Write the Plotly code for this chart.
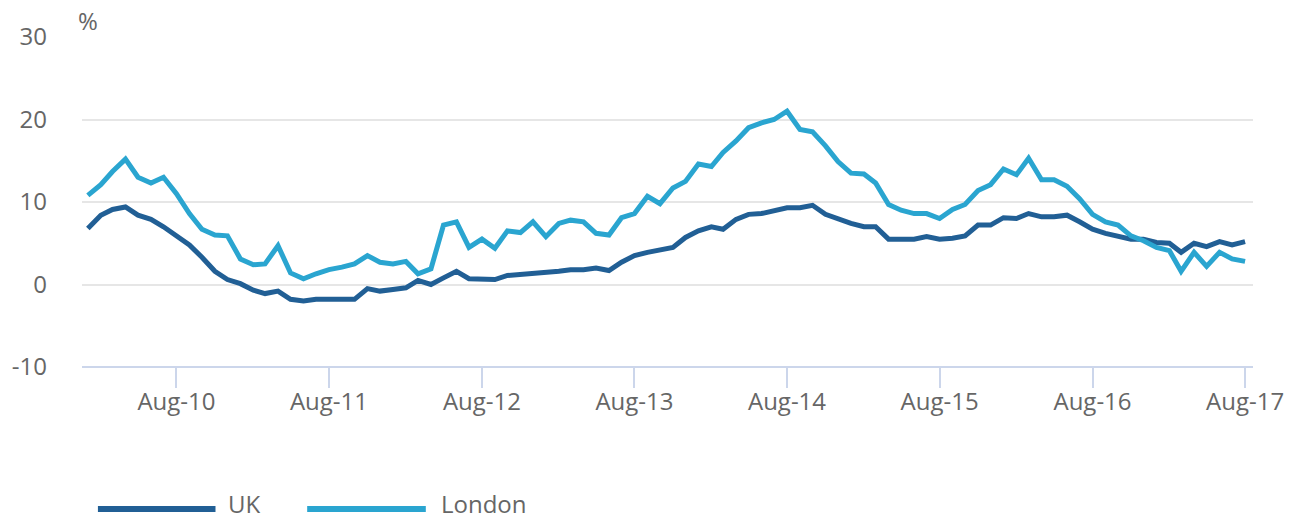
import pandas as pd
import plotly.graph_objects as go

# monthly house price growth, Jan 2010 - Aug 2017 (%)
months = pd.date_range("2010-01-01", "2017-08-01", freq="MS")

uk = [6.8, 8.4, 9.1, 9.4, 8.4, 7.9, 7.0, 5.9, 4.8, 3.3, 1.6, 0.6,
      0.1, -0.7, -1.1, -0.8, -1.8, -2.0, -1.8, -1.8, -1.8, -1.8, -0.5, -0.8,
      -0.6, -0.4, 0.5, 0.0, 0.8, 1.6, 0.7, 0.7, 0.6, 1.1, 1.2, 1.4,
      1.4, 1.6, 1.8, 1.8, 2.0, 1.7, 2.7, 3.5, 3.9, 4.2, 4.5, 5.7,
      6.5, 7.0, 6.7, 7.9, 8.5, 8.6, 8.9, 9.3, 9.3, 9.6, 8.5, 7.9,
      7.4, 7.0, 7.0, 5.5, 5.5, 5.5, 5.8, 5.5, 5.6, 5.9, 7.2, 7.2,
      8.1, 8.0, 8.6, 8.2, 8.2, 8.4, 7.6, 6.7, 6.2, 5.8, 5.5, 5.5,
      5.1, 5.0, 3.9, 5.0, 4.6, 5.2, 4.8, 5.2]

london = [10.8, 12.1, 13.7, 15.2, 13.0, 12.3, 13.0, 11.0, 8.6, 6.7, 6.0, 5.9,
          3.1, 2.4, 2.5, 4.7, 1.4, 0.7, 1.3, 1.8, 2.1, 2.5, 3.5, 2.7,
          2.5, 2.8, 1.3, 1.9, 7.2, 7.6, 4.5, 5.5, 4.4, 6.5, 6.3, 7.6,
          5.8, 7.4, 7.8, 7.6, 6.2, 6.0, 8.1, 8.6, 10.7, 9.8, 11.7, 12.5,
          14.6, 14.3, 16.0, 17.4, 19.0, 19.6, 20.0, 21.0, 18.8, 18.5, 16.8, 14.9,
          13.5, 13.4, 12.3, 9.7, 9.0, 8.6, 8.6, 8.0, 9.1, 9.7, 11.4, 12.1,
          14.0, 13.3, 15.3, 12.7, 12.7, 11.9, 10.4, 8.5, 7.6, 7.2, 5.9, 5.3,
          4.5, 4.1, 1.6, 3.9, 2.2, 3.9, 3.1, 2.8]

tick_dates = ["2010-08-01", "2011-08-01", "2012-08-01", "2013-08-01",
              "2014-08-01", "2015-08-01", "2016-08-01", "2017-08-01"]
tick_labels = ["Aug-10", "Aug-11", "Aug-12", "Aug-13",
               "Aug-14", "Aug-15", "Aug-16", "Aug-17"]
y_ticks = [-10, 0, 10, 20, 30]
y_labels = ["-10", "0", "10", "20", "30"]

UK_COL = "#215f95"
LON_COL = "#2aa5d0"
TXT = "#666666"

fig = go.Figure()
fig.add_trace(go.Scatter(x=months, y=uk, mode="lines", name="UK",
                         line=dict(color=UK_COL, width=5)))
fig.add_trace(go.Scatter(x=months, y=london, mode="lines", name="London",
                         line=dict(color=LON_COL, width=5)))

fig.update_layout(
    width=1298, height=521,
    margin=dict(l=78, r=45, t=37, b=154),
    paper_bgcolor="white", plot_bgcolor="white",
    showlegend=False,
    font=dict(family="Open Sans", size=24, color=TXT),
)

fig.update_xaxes(
    range=["2009-12-18", "2017-08-20"],
    tickvals=tick_dates, ticktext=tick_labels,
    showgrid=False, zeroline=False,
    showline=False,
    ticks="outside", ticklen=20, tickwidth=2, tickcolor="#ccd6eb",
    ticklabelstandoff=-7,
    tickfont=dict(size=24, color=TXT),
)
fig.update_yaxes(
    range=[-10, 30], tickvals=y_ticks, ticktext=y_labels,
    showgrid=True, gridcolor="#e6e6e6", gridwidth=2,
    zeroline=False, showline=False,
    ticks="", ticklabelstandoff=34,
    tickfont=dict(size=24, color=TXT),
)

# axis line along the bottom (-10)
fig.add_shape(type="line", xref="paper", yref="paper", x0=0, x1=1, y0=0, y1=0,
              line=dict(color="#ccd6eb", width=2))

fig.add_annotation(text="%", xref="paper", yref="paper", x=0, y=1.05,
                   xanchor="left", yanchor="middle", showarrow=False,
                   xshift=-6, font=dict(size=24, color=TXT))

# legend drawn by hand for the long line keys
legend = [("UK", UK_COL, 0.0136, 0.114, 0.1226),
          ("London", LON_COL, 0.1923, 0.2936, 0.3047)]
for name, col, x0, x1, xt in legend:
    fig.add_shape(type="line", xref="paper", yref="paper", x0=x0, x1=x1,
                  y0=-0.430, y1=-0.430, line=dict(color=col, width=6))
    fig.add_annotation(text=name, xref="paper", yref="paper", x=xt,
                       y=-0.415, xanchor="left", yanchor="middle",
                       showarrow=False, font=dict(size=24, color=TXT))

# drop the default page margin so the figure sits at the window corner
fig.write_html("out.html", config={"displayModeBar": False},
               post_script="document.body.style.margin='0';")
